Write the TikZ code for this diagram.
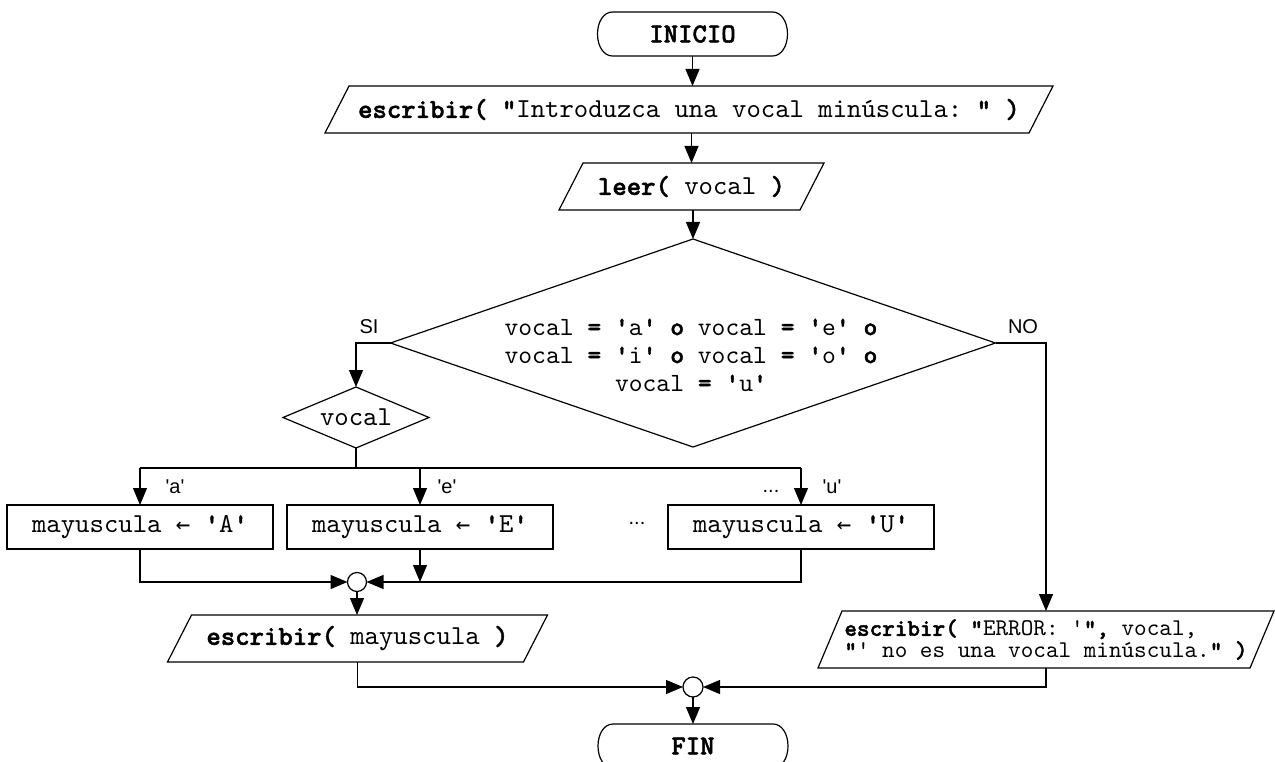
\documentclass[tikz,border=0pt]{standalone}
\usepackage{fontspec}
\setmonofont{lmmono10-regular.otf}[BoldFont=lmmonolt10-bold.otf, BoldFeatures={FakeBold=1.6}]
\newfontfamily\labfont{Liberation Sans}
\newfontfamily\arrowfont{DejaVu Sans Mono}
\usetikzlibrary{arrows.meta,shapes.geometric}

\newcommand\ioshape[2]{\draw ([xshift=#2]#1.north west) -- ([xshift=#2]#1.north east) -- ([xshift=-#2]#1.south east) -- ([xshift=-#2]#1.south west) -- cycle;}
\newcommand\termshape[1]{\draw ([xshift=15pt]#1.north west) -- ([xshift=-15pt]#1.north east)
  .. controls +(9pt,0pt) and +(0pt,12pt) .. (#1.east)
  .. controls +(0pt,-12pt) and +(9pt,0pt) .. ([xshift=-15pt]#1.south east)
  -- ([xshift=15pt]#1.south west)
  .. controls +(-9pt,0pt) and +(0pt,-12pt) .. (#1.west)
  .. controls +(0pt,12pt) and +(-9pt,0pt) .. ([xshift=15pt]#1.north west) -- cycle;}
\newcommand\larr{{\arrowfont\fontsize{24pt}{28pt}\selectfont ←}}

\begin{document}
\begin{tikzpicture}[x=1pt,y=-1pt,line width=1.2pt,
  arr/.style={-{Triangle[length=17pt,width=14pt]}},
  mono/.style={font=\ttfamily\frenchspacing\fontsize{27.4pt}{30pt}\selectfont},
  dtext/.style={font=\ttfamily\frenchspacing\fontsize{26.3pt}{28pt}\selectfont, align=center, inner sep=0pt},
  etext/.style={font=\ttfamily\frenchspacing\fontsize{24pt}{22pt}\selectfont, align=left},
  lab/.style={font=\labfont\fontsize{20pt}{22pt}\selectfont, inner sep=0pt},
  term/.style={mono, rectangle, minimum width=190pt, minimum height=44pt, inner sep=0pt, outer sep=0pt},
  io/.style={mono, rectangle, inner sep=0pt, outer sep=0pt},
  proc/.style={mono, rectangle, draw, minimum width=266pt, minimum height=44pt, inner sep=0pt, outer sep=0pt},
  joinc/.style={circle, draw, fill=white, minimum size=19pt, inner sep=0pt, outer sep=0pt},
  dec/.style={diamond, draw, inner sep=0pt, outer sep=0pt},
]
\useasboundingbox (0,0) rectangle (1275,762);

% nodes
\node[term] (ini) at (692.5,34) {\textbf{INICIO}};
\termshape{ini}
\node[io, minimum width=704pt, minimum height=47pt] (p1) at (689,109.5)
  {\textbf{escribir( "}Introduzca una vocal minúscula: \textbf{" )}};
\ioshape{p1}{12pt}
\node[io, minimum width=241pt, minimum height=47pt] (leer) at (691.5,186.5)
  {\textbf{leer(} vocal \textbf{)}};
\ioshape{leer}{12pt}
\node[dec, minimum width=605pt, minimum height=208pt] (dec) at (693,343) {};
\node[dtext] (dect) at (691,355)
  {vocal \textbf{= '}a\textbf{' o} vocal \textbf{= '}e\textbf{' o}\\
   vocal \textbf{= '}i\textbf{' o} vocal \textbf{= '}o\textbf{' o}\\
   vocal \textbf{= '}u\textbf{'}};
\node[dec, mono, aspect=2.4, minimum width=146pt, minimum height=61pt] (vdec) at (356,417.5) {vocal};

\node[proc] (bA) at (140,527) {mayuscula \larr{} \textbf{'}A\textbf{'}};
\node[proc] (bE) at (420,527) {mayuscula \larr{} \textbf{'}E\textbf{'}};
\node[proc] (bU) at (801,527) {mayuscula \larr{} \textbf{'}U\textbf{'}};

\node[joinc] (j1) at (357,582) {};
\node[io, minimum width=356pt, minimum height=47pt] (p2) at (357.5,638.5)
  {\textbf{escribir(} mayuscula \textbf{)}};
\ioshape{p2}{12pt}
\node[io, etext, minimum width=432pt, minimum height=57pt] (err) at (1046,639.5)
  {\textbf{escribir( "}ERROR: '\textbf{",} vocal,\\\textbf{"}' no es una vocal minúscula.\textbf{" )}};
\ioshape{err}{12pt}
\node[joinc, minimum size=20pt] (j2) at (693,687) {};
\node[term] (fin) at (693,746) {\textbf{FIN}};
\termshape{fin}

% labels
\node[lab] (lsi) at (369,327) {SI};
\node[lab] (lno) at (1023,327) {NO};
\node[lab] (la) at (175,487) {'a'};
\node[lab] (le) at (447,487) {'e'};
\node[lab] (ldu) at (771,491) {...};
\node[lab] (lu) at (832,487) {'u'};
\node[lab] (ldm) at (637,523) {...};

% connectors
\draw[arr] (ini.south) -- (ini.south |- p1.north);
\draw[arr] (p1.south -| leer.north) -- (leer.north);
\draw[arr] (leer.south -| dec.north) -- (dec.north);
\draw[arr] (dec.west) -| (vdec.north);
\draw[arr] (dec.east) -| (err.north);
\coordinate (sp) at (356,468);
\draw (vdec.south) -- (sp);
\draw (bA.north |- sp) -- (bU.north |- sp);
\draw[arr] (bA.north |- sp) -- (bA.north);
\draw[arr] (bE.north |- sp) -- (bE.north);
\draw[arr] (bU.north |- sp) -- (bU.north);
\draw[arr] (bA.south) |- (j1.west);
\draw[arr] (bU.south) |- (j1.east);
\draw[arr] (bE.south) -- (bE.south |- j1.center);
\draw[arr] (j1.south) -- (j1.south |- p2.north);
\draw[arr] (p2.south) |- (j2.west);
\draw[arr] (err.south) |- (j2.east);
\draw[arr] (j2.south) -- (j2.south |- fin.north);
\end{tikzpicture}
\end{document}
